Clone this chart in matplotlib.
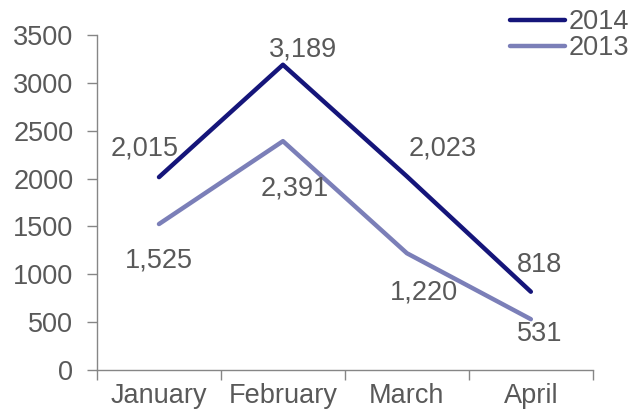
import matplotlib
matplotlib.use("Agg")
import matplotlib.pyplot as plt

months = ["January", "February", "March", "April"]
s2014 = [2015, 3189, 2023, 818]
s2013 = [1525, 2391, 1220, 531]
yticks = [0, 500, 1000, 1500, 2000, 2500, 3000, 3500]

plt.rcParams['font.family'] = ['Liberation Sans', 'DejaVu Sans']
gray = '#595959'
axc = '#868686'
c14 = '#15157a'
c13 = '#7b7fb8'
fs = 19.5

fig = plt.figure(figsize=(6.32, 4.18), dpi=100)
ax = fig.add_axes([0.1535, 0.1148, 0.7845, 0.8015])
x = list(range(len(months)))
l1, = ax.plot(x, s2014, color=c14, lw=3.2, solid_capstyle='round', label='2014')
l2, = ax.plot(x, s2013, color=c13, lw=3.2, solid_capstyle='round', label='2013')
ax.set_xlim(-0.5, 3.5)
ax.set_ylim(0, 3500)
ax.set_yticks(yticks)
ax.set_yticklabels([str(v) for v in yticks])
ax.set_xticks(x)
ax.set_xticklabels(months)
ax.set_xticks([-0.5, 0.5, 1.5, 2.5, 3.5], minor=True)
ax.tick_params(axis='x', which='major', length=0, pad=9, labelsize=fs, labelcolor=gray)
ax.tick_params(axis='x', which='minor', length=7, color=axc, width=1)
ax.tick_params(axis='y', length=7, color=axc, width=1, labelsize=fs, labelcolor=gray, pad=10)
for s in ['top', 'right']:
    ax.spines[s].set_visible(False)
for s in ['left', 'bottom']:
    ax.spines[s].set_color(axc)
    ax.spines[s].set_linewidth(1)

off14 = [(-14, 29), (20, 15), (36, 28), (9, 27)]
off13 = [(0, -36), (12, -47), (17, -39), (9, -15)]
for i, v in enumerate(s2014):
    ax.annotate(f"{v:,}", (i, v), xytext=off14[i], textcoords='offset pixels',
                ha='center', va='center', fontsize=fs, color=gray)
for i, v in enumerate(s2013):
    ax.annotate(f"{v:,}", (i, v), xytext=off13[i], textcoords='offset pixels',
                ha='center', va='center', fontsize=fs, color=gray)

leg = fig.legend(handles=[l1, l2], loc='upper right', bbox_to_anchor=(1.0, 0.984),
                 frameon=False, fontsize=fs, labelcolor=gray, handlelength=2.0,
                 handletextpad=0.15, labelspacing=0.0, borderaxespad=0, borderpad=0.1)

fig.savefig('out.png', dpi=100)
